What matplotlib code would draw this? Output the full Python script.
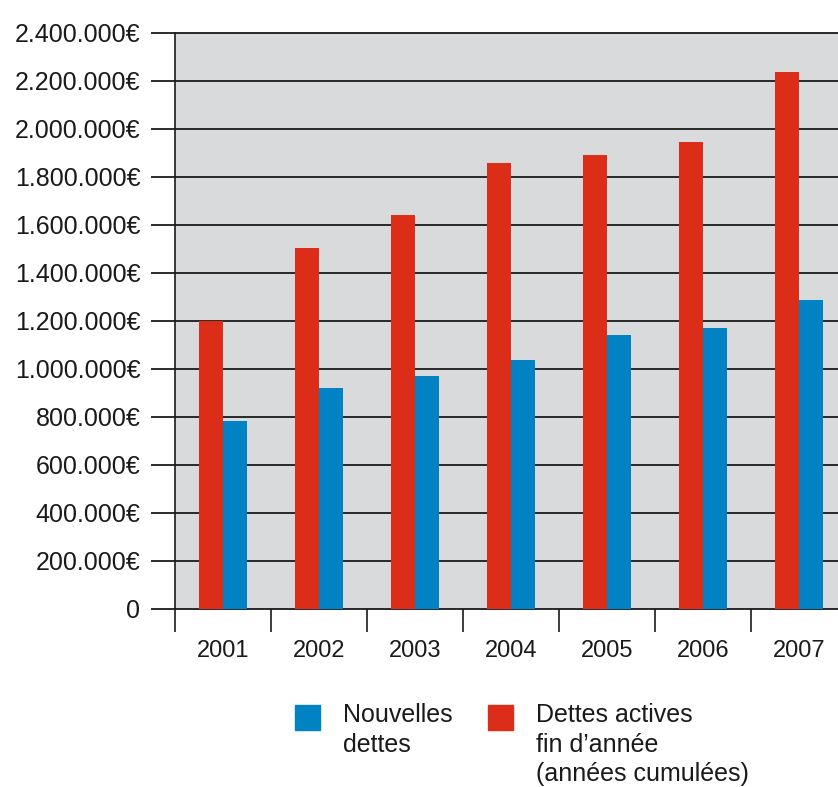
import numpy as np
import matplotlib.pyplot as plt
from matplotlib.ticker import FuncFormatter
from matplotlib.patches import Rectangle

plt.rcParams['font.family'] = ['Liberation Sans', 'DejaVu Sans']

years = ['2001', '2002', '2003', '2004', '2005', '2006', '2007']
nouvelles = [783000, 921000, 971000, 1037000, 1142000, 1171000, 1288000]
actives = [1200000, 1504000, 1642000, 1858000, 1892000, 1946000, 2238000]
yticks = np.arange(0, 2400001, 200000)

red = '#dc2d19'
blue = '#0082c3'
ink = '#1a1a1a'

W, H = 838, 787
fig = plt.figure(figsize=(W / 100, H / 100), dpi=100)
ax = fig.add_axes([175 / W, 1 - 609 / H, 663 / W, 576 / H])
ax.set_facecolor('#d9dadc')

x = np.arange(len(years))
w = 0.25
ax.bar(x - w / 2, actives, w, color=red, zorder=3)
ax.bar(x + w / 2, nouvelles, w, color=blue, zorder=3)

# horizontal rules reach out past the left edge, under the labels
ax.hlines(yticks, -24 / 663, 1, transform=ax.get_yaxis_transform(),
          colors=ink, lw=1.3, zorder=2, clip_on=False)

def euro(v, pos):
    if v == 0:
        return '0'
    return f'{int(v):,}'.replace(',', '.') + '€'

ax.set_yticks(yticks)
ax.yaxis.set_major_formatter(FuncFormatter(euro))
ax.tick_params(axis='y', length=0, pad=25, labelsize=18, labelcolor=ink)

ax.set_xticks(x)
ax.set_xticklabels(years)
ax.set_xticks(np.arange(-0.5, len(years) - 1, 1), minor=True)
ax.tick_params(axis='x', which='major', length=0, pad=22, labelsize=17, labelcolor=ink)
ax.tick_params(axis='x', which='minor', length=16.5, width=1.2, color=ink, direction='out')

# last group is cut by the right edge
ax.set_xlim(-0.5, -0.5 + 663 / 96)
ax.set_ylim(0, 2400000)

for s in ['top', 'right', 'bottom']:
    ax.spines[s].set_visible(False)
ax.spines['left'].set_color(ink)
ax.spines['left'].set_linewidth(1.2)

# legend drawn by hand, squares aligned with the first text line
def legend_item(x0, color, label):
    fig.patches.append(Rectangle((x0 / W, 1 - 730 / H), 25 / W, 25 / H,
                                 transform=fig.transFigure, color=color))
    fig.text((x0 + 48) / W, 1 - 703 / H, label, ha='left', va='top',
             fontsize=18, color=ink, linespacing=1.3)

legend_item(295, blue, 'Nouvelles\ndettes')
legend_item(488, red, 'Dettes actives\nfin d’année\n(années cumulées)')

fig.savefig('out.png', dpi=100)
